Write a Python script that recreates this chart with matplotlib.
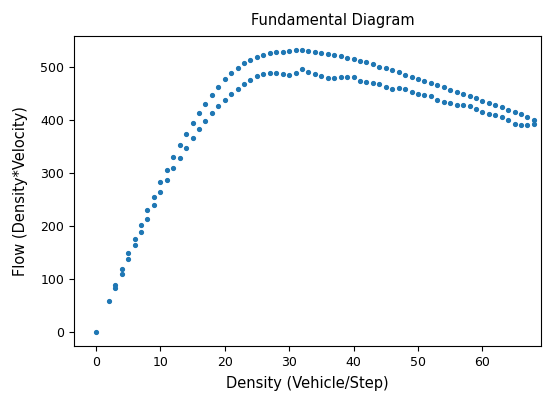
import matplotlib
matplotlib.use("Agg")
import matplotlib.pyplot as plt
import numpy as np

density_start = [0, 2]
flow_start = [0, 59]

density = list(range(3, 69))
flow_upper = [89, 119, 148, 175, 202, 229, 255, 282, 306, 330, 352, 373, 393, 412,
              430, 447, 462, 476, 488, 498, 506, 513, 518, 522, 525, 527, 528, 530,
              531, 531, 530, 528, 526, 524, 521, 519, 517, 514, 511, 508, 504, 500,
              497, 493, 489, 485, 481, 477, 473, 469, 465, 461, 456, 452, 448, 444,
              440, 436, 432, 427, 423, 419, 414, 410, 405, 400]
flow_lower = [83, 109, 137, 164, 188, 213, 240, 264, 286, 308, 328, 347, 365, 382,
              398, 412, 425, 437, 448, 458, 467, 475, 482, 486, 487, 487, 486, 485,
              487, 496, 490, 486, 483, 479, 478, 480, 481, 480, 472, 470, 469, 468,
              462, 458, 460, 457, 452, 448, 446, 444, 437, 433, 432, 428, 427, 425,
              420, 414, 410, 408, 405, 400, 392, 390, 390, 392]

x = density_start + density + density
y = flow_start + flow_upper + flow_lower

fig = plt.figure(figsize=(5.56, 3.96), dpi=100)
ax = fig.add_axes([74/556, 1 - 346/396, (541 - 74)/556, (346 - 36)/396])
ax.plot(x, y, '.', color='#1f77b4', markersize=5.5)
ax.set_xlim(-3.4, 69.1)
ax.set_title("Fundamental Diagram", fontsize=10.5, x=0.555, pad=8)
ax.set_xlabel("Density (Vehicle/Step)", fontsize=10.5, labelpad=5)
ax.set_ylabel("Flow (Density*Velocity)", fontsize=10.5, labelpad=9)
ax.tick_params(labelsize=9)
fig.savefig("out.png", dpi=100)
